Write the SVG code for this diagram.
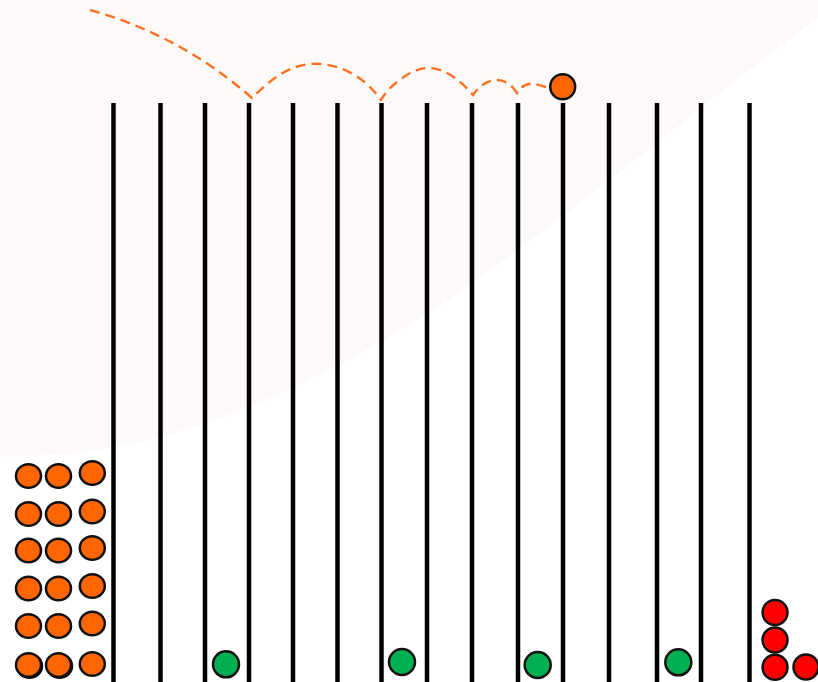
<svg xmlns="http://www.w3.org/2000/svg" width="818" height="682" viewBox="0 0 818 682">
<style>
.bar{stroke:#000;stroke-width:4.5;fill:none}
.o{fill:#ff6600;stroke:#111;stroke-width:2.5}
.g{fill:#00b050;stroke:#111;stroke-width:2.5}
.r{fill:#ff0000;stroke:#111;stroke-width:2.5}
.path{fill:none;stroke:#ff7022;stroke-width:2.4;stroke-dasharray:10 6}
</style>
<rect width="818" height="682" fill="#ffffff"/>
<path d="M0,0 L818,0 L818,18 C680,120 520,260 387,338 C280,400 150,460 0,456 Z" fill="#fdf9f8"/>
<g id="bars">
<line class="bar" x1="113.5" y1="103" x2="113.5" y2="682"/>
<line class="bar" x1="160.5" y1="103" x2="160.5" y2="682"/>
<line class="bar" x1="205" y1="103" x2="205" y2="682"/>
<line class="bar" x1="249" y1="103" x2="249" y2="682"/>
<line class="bar" x1="293" y1="103" x2="293" y2="682"/>
<line class="bar" x1="337.5" y1="103" x2="337.5" y2="682"/>
<line class="bar" x1="381.5" y1="103" x2="381.5" y2="682"/>
<line class="bar" x1="427" y1="103" x2="427" y2="682"/>
<line class="bar" x1="472" y1="103" x2="472" y2="682"/>
<line class="bar" x1="518" y1="103" x2="518" y2="682"/>
<line class="bar" x1="563" y1="103" x2="563" y2="682"/>
<line class="bar" x1="609" y1="103" x2="609" y2="682"/>
<line class="bar" x1="657" y1="103" x2="657" y2="682"/>
<line class="bar" x1="701" y1="103" x2="701" y2="682"/>
<line class="bar" x1="749.5" y1="103" x2="749.5" y2="682"/>
</g>
<g id="connectors">
<path class="path" d="M90,10 Q180,35 252,98 C275,75 295,62 320,64 C345,66 365,78 381,100 L387,91 C400,78 415,68 428,68 C445,68 460,80 473,95 C480,85 488,80 497,80 C505,80 512,85 517,93 C522,85 528,83 535,84 L549,88"/>
</g>
<g id="ball-top"><circle class="o" cx="562.7" cy="86.7" r="12.5"/></g>
<g id="stack-orange">
<ellipse class="o" cx="28.5" cy="476" rx="12.5" ry="11.8"/>
<ellipse class="o" cx="58.5" cy="476" rx="12.5" ry="11.8"/>
<ellipse class="o" cx="92.3" cy="473" rx="12.5" ry="11.8"/>
<ellipse class="o" cx="28.5" cy="514" rx="12.5" ry="11.8"/>
<ellipse class="o" cx="58.5" cy="514" rx="12.5" ry="11.8"/>
<ellipse class="o" cx="92.3" cy="511.5" rx="12.5" ry="11.8"/>
<ellipse class="o" cx="28.5" cy="550.5" rx="12.5" ry="11.8"/>
<ellipse class="o" cx="58.5" cy="550.5" rx="12.5" ry="11.8"/>
<ellipse class="o" cx="92.3" cy="548" rx="12.5" ry="11.8"/>
<ellipse class="o" cx="28.5" cy="588.5" rx="12.5" ry="11.8"/>
<ellipse class="o" cx="58.5" cy="588.5" rx="12.5" ry="11.8"/>
<ellipse class="o" cx="92.3" cy="586" rx="12.5" ry="11.8"/>
<ellipse class="o" cx="28.5" cy="626" rx="12.5" ry="11.8"/>
<ellipse class="o" cx="58.5" cy="626" rx="12.5" ry="11.8"/>
<ellipse class="o" cx="92.3" cy="623.5" rx="12.5" ry="11.8"/>
<ellipse class="o" cx="29.5" cy="666" rx="12.5" ry="11.8"/>
<ellipse class="o" cx="28.5" cy="665" rx="12.5" ry="11.8"/>
<ellipse class="o" cx="59.5" cy="666" rx="12.5" ry="11.8"/>
<ellipse class="o" cx="58.5" cy="665" rx="12.5" ry="11.8"/>
<ellipse class="o" cx="92.3" cy="664" rx="12.5" ry="11.8"/>
</g>
<g id="green-balls">
<circle class="g" cx="226" cy="664.3" r="13"/>
<circle class="g" cx="402" cy="662" r="13"/>
<circle class="g" cx="537.7" cy="665" r="13"/>
<circle class="g" cx="678.3" cy="662.3" r="13"/>
</g>
<g id="red-balls">
<circle class="r" cx="775" cy="612.5" r="12.5"/>
<circle class="r" cx="775" cy="640" r="12.5"/>
<circle class="r" cx="775" cy="667.3" r="12.5"/>
<circle class="r" cx="806" cy="667" r="12.5"/>
</g>
</svg>
